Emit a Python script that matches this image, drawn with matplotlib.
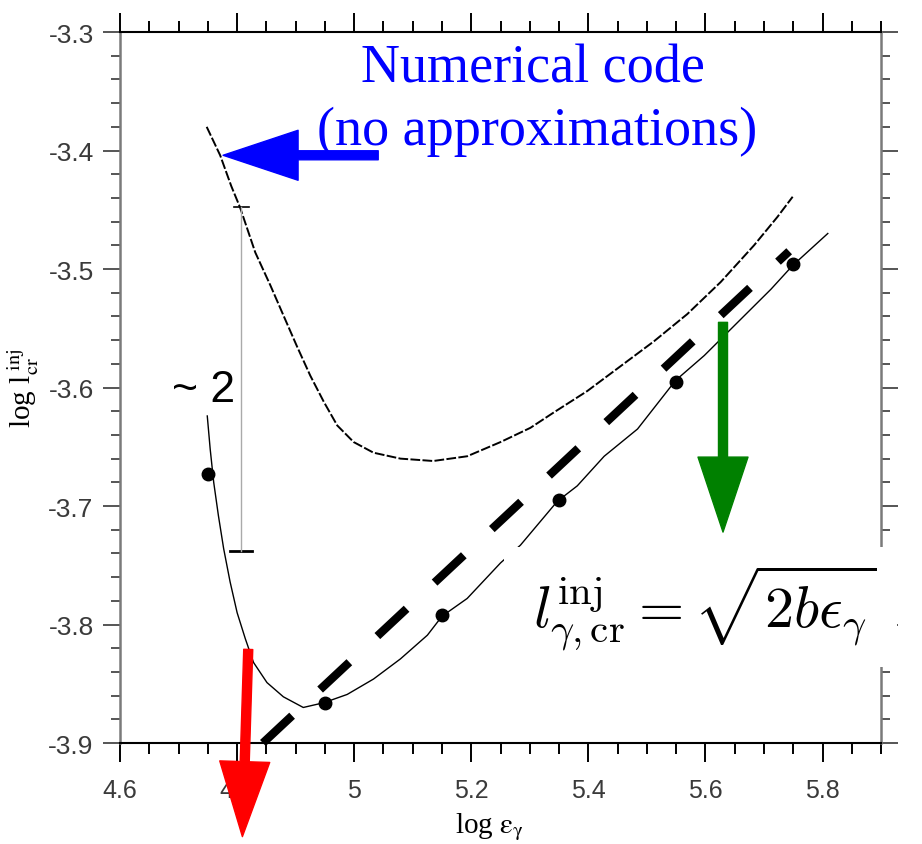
import matplotlib
matplotlib.use("Agg")
import matplotlib.pyplot as plt
from matplotlib.patches import Rectangle
from matplotlib.ticker import MultipleLocator

plt.rcParams["axes.unicode_minus"] = False

# numerical code (upper, finely dashed)
num_x = [4.748, 4.771, 4.790, 4.805, 4.831, 4.857, 4.879, 4.902, 4.925, 4.948,
         4.971, 4.999, 5.033, 5.079, 5.135, 5.193, 5.250, 5.301, 5.341, 5.398,
         5.455, 5.512, 5.569, 5.626, 5.683, 5.723, 5.749]
num_y = [-3.380, -3.404, -3.430, -3.448, -3.486, -3.514, -3.539, -3.565, -3.590, -3.612,
         -3.632, -3.646, -3.655, -3.660, -3.662, -3.658, -3.646, -3.634, -3.621, -3.603,
         -3.582, -3.561, -3.538, -3.511, -3.480, -3.456, -3.439]

# lower thin solid curve
low_x = [4.749, 4.754, 4.760, 4.768, 4.777, 4.788, 4.800, 4.814, 4.828, 4.851,
         4.879, 4.913, 4.948, 4.988, 5.033, 5.079, 5.125, 5.150, 5.193, 5.250,
         5.284, 5.347, 5.381, 5.427, 5.484, 5.549, 5.598, 5.655, 5.712, 5.749, 5.809]
low_y = [-3.624, -3.652, -3.680, -3.708, -3.736, -3.764, -3.790, -3.812, -3.832, -3.849,
         -3.861, -3.870, -3.866, -3.859, -3.846, -3.829, -3.809, -3.793, -3.778, -3.748,
         -3.733, -3.696, -3.683, -3.658, -3.635, -3.594, -3.573, -3.545, -3.517, -3.497, -3.470]

# dots
dot_x = [4.75, 4.95, 5.15, 5.35, 5.55, 5.75]
dot_y = [-3.673, -3.866, -3.792, -3.695, -3.595, -3.496]

# analytic sqrt line (thick dashed)
sq_x = [4.844, 5.743]
sq_y = [-3.900, -3.485]

# "~2" bar
bar_x = 4.807
bar_y = [-3.448, -3.738]

tick_font = "Liberation Sans"

fig = plt.figure(figsize=(9.22, 8.45), dpi=100)
ax = fig.add_axes([0.1302, 0.1195, 0.8254, 0.8414])

ax.plot(num_x, num_y, color="black", lw=1.4, ls=(0, (5, 1.2)), zorder=3)
ax.plot(low_x, low_y, color="black", lw=1.0, zorder=3)
ax.plot(dot_x, dot_y, "o", color="black", ms=9, zorder=4)
ax.plot(sq_x, sq_y, color="black", lw=6, ls=(0, (4.8, 4.6)), solid_capstyle="butt",
        dash_capstyle="butt", zorder=3, clip_on=False)

ax.plot([bar_x, bar_x], bar_y, color="#aaaaaa", lw=1.0, zorder=3)
ax.plot([bar_x - 0.013, bar_x + 0.013], [bar_y[0], bar_y[0]], color="black", lw=1.2)
ax.plot([bar_x - 0.019, bar_x + 0.019], [bar_y[1], bar_y[1]], color="black", lw=2.0)

ax.set_xlim(4.6, 5.9)
ax.set_ylim(-3.9, -3.3)
ax.xaxis.set_minor_locator(MultipleLocator(0.05))
ax.yaxis.set_major_locator(MultipleLocator(0.1))
ax.yaxis.set_minor_locator(MultipleLocator(0.02))
ax.set_xticks([4.6, 4.8, 5.0, 5.2, 5.4, 5.6, 5.8])
ax.set_xticklabels(["4.6", "4.8", "5", "5.2", "5.4", "5.6", "5.8"])

ax.tick_params(axis="x", which="both", direction="out", top=True, bottom=True,
               color="black", width=1.4, labelsize=18, labelcolor="#3a3a3a", pad=11)
ax.tick_params(axis="x", which="major", length=14)
ax.tick_params(axis="x", which="minor", length=8)
ax.tick_params(axis="y", which="both", direction="out", left=True, right=True,
               color="#555555", width=1.4, labelsize=19, labelcolor="#3a3a3a", pad=7)
ax.tick_params(axis="y", which="major", length=12)
ax.tick_params(axis="y", which="minor", length=6.5)
for lab in ax.get_xticklabels() + ax.get_yticklabels():
    lab.set_family(tick_font)
for s in ["left", "right"]:
    ax.spines[s].set_color("#7a7a7a")
    ax.spines[s].set_linewidth(1.8)
for s in ["top", "bottom"]:
    ax.spines[s].set_color("black")
    ax.spines[s].set_linewidth(1.5)

ax.set_xlabel(r"log $\mathrm{\varepsilon_\gamma}$", family="Liberation Serif", fontsize=21,
              math_fontfamily="stix")
ax.xaxis.set_label_coords(0.486, -0.094)
ax.set_ylabel(r"log l$_{\mathrm{cr}}^{\ \mathrm{inj}}$", family="Liberation Serif", fontsize=21,
              math_fontfamily="stix")
ax.yaxis.set_label_coords(-0.104, 0.5)

# annotations
ax.text(5.305, -3.342, "Numerical code", color="blue", family="Liberation Serif",
        fontsize=39, ha="center", va="baseline")
ax.text(5.313, -3.3945, "(no approximations)", color="blue", family="Liberation Serif",
        fontsize=39, ha="center", va="baseline")
ax.text(4.689, -3.611, "~ 2", color="black", family="Liberation Sans", fontsize=32,
        ha="left", va="baseline")

ax.annotate("", xy=(4.776, -3.404), xytext=(5.041, -3.404),
            arrowprops=dict(color="blue", width=6.5, headwidth=36, headlength=54, shrink=0),
            annotation_clip=False)
ax.annotate("", xy=(4.809, -3.979), xytext=(4.819, -3.821),
            arrowprops=dict(color="red", width=6.5, headwidth=36, headlength=54, shrink=0),
            annotation_clip=False)
ax.annotate("", xy=(5.630, -3.722), xytext=(5.630, -3.545),
            arrowprops=dict(color="green", width=6.5, headwidth=36, headlength=54, shrink=0),
            annotation_clip=False)

ax.add_patch(Rectangle((0.504, 0.107), 0.517, 0.169, transform=ax.transAxes,
                       facecolor="white", edgecolor="none", zorder=5, clip_on=False))
ax.text(5.306, -3.802, r"$l^{\mathrm{inj}}_{\gamma,\mathrm{cr}} = \sqrt{2b\epsilon_\gamma}$",
        fontsize=42, math_fontfamily="cm", ha="left", va="baseline", zorder=6)

fig.savefig("out.png", dpi=100)
